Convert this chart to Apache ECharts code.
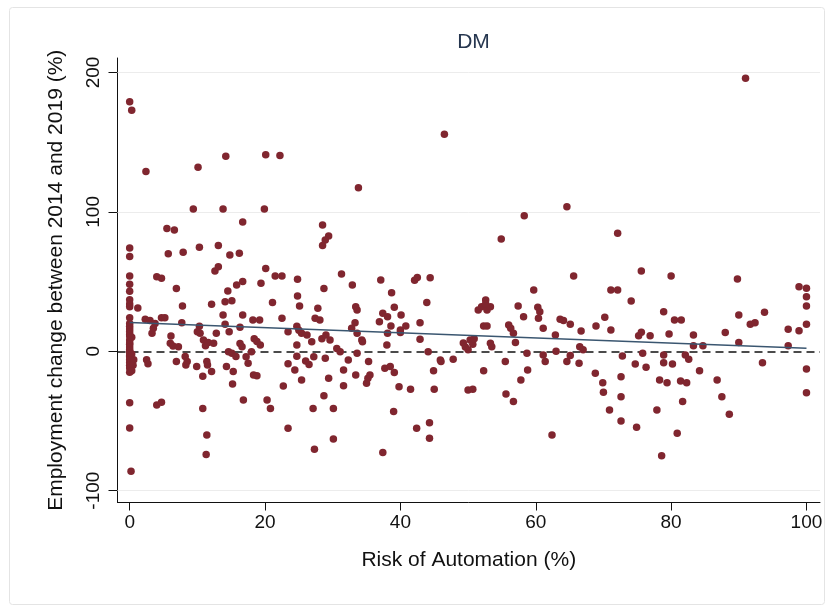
<!DOCTYPE html>
<html>
<head>
<meta charset="utf-8">
<script src="https://cdn.jsdelivr.net/npm/echarts@6/dist/echarts.min.js"></script>
<style>
html,body{margin:0;padding:0;background:#fff;}
#chart{width:829px;height:608px;}
</style>
</head>
<body>
<div id="chart"></div>
<script>
const chartTitle = "DM";
const xAxisTitle = "Risk of Automation (%)";
const yAxisTitle = "Employment change between 2014 and 2019 (%)";
const xTicks = [0, 20, 40, 60, 80, 100];
const yTicks = [-100, 0, 100, 200];
const yGridValues = [-100, 100, 200];
const zeroLineValue = 0;

// Risk of automation (%) for each occupation
const riskPct = [
  0,0.3,0,0,0,0,0,0,0,0,0,0,0,0,0,0,0,0,0,0,0,0,0,0,0,0,0,0,0,0,0,0,0,0.2,0.6,0.5,0.3,0.3,0.3,1.2,
  2.4,2.3,2.5,2.7,3.0,3.3,3.5,3.75,4.0,4.7,4.0,4.7,4.7,5.2,
  5.5,6.6,5.7,6.1,6.0,6.4,6.9,7.2,6.9,7.7,7.8,7.9,8.2,8.5,8.3,9.4,9.9,10.3,10.1,
  10.3,10.0,10.4,10.9,11.6,10.8,10.8,11.4,11.3,11.4,11.5,12.1,12.1,12.6,13.1,13.1,12.8,12.4,13.8,14.2,13.8,14.1,14.7,14.1,15.1,14.5,14.8,14.3,15.3,15.2,14.6,15.1,15.7,11.2,
  16.2,16.7,15.8,16.7,16.7,16.3,16.6,16.3,17.5,16.8,18.0,18.3,18.8,18.2,19.2,18.4,18.8,19.3,19.4,20.1,19.9,20.1,20.3,20.8,17.2,
  21.1,21.5,22.5,22.2,22.5,22.7,23.4,23.4,23.4,24.4,25.4,24.8,24.8,25.1,24.7,25.0,25.4,24.7,24.7,
  26.2,26.9,26.0,26.5,27.2,27.1,27.3,27.8,27.4,28.1,28.5,29.4,28.9,28.5,28.7,28.4,29.0,29.6,28.7,29.4,28.9,30.1,30.1,30.6,31.1,
  31.3,31.6,31.6,32.3,32.9,33.4,33.6,33.4,33.6,33.3,32.8,33.6,34.3,33.8,34.4,35.3,35.0,35.2,35.5,
  37.1,36.9,37.4,38.1,38.6,38.0,37.7,38.5,39.1,39.8,39.0,37.4,38.7,39.1,40.1,40.0,40.8,40.0,38.1,
  41.5,42.1,42.5,42.4,42.9,42.9,43.9,44.1,44.4,44.3,44.3,44.9,45.0,45.9,46.0,46.5,47.8,
  49.3,49.6,50.0,50.3,50.7,50.9,50.0,50.7,51.5,52.0,52.6,52.8,53.3,52.3,52.8,52.3,53.3,53.5,54.9,52.6,
  55.5,55.6,56.0,56.3,56.7,57.0,56.7,57.4,57.8,58.2,58.3,58.7,58.8,59.7,
  60.3,60.6,60.4,61.1,61.1,61.4,62.4,62.9,63.0,63.6,64.1,64.6,64.6,65.1,65.1,65.6,
  66.4,66.7,66.5,67.0,68.9,68.8,69.9,70.0,70.2,70.9,
  71.1,72.1,71.1,72.1,72.6,72.6,72.6,72.8,74.1,74.7,74.9,75.2,75.6,75.6,75.8,76.3,76.9,77.9,78.3,79.4,78.6,78.9,78.9,78.9,79.7,80.0,80.2,
  80.5,81.5,80.9,81.4,82.3,81.7,82.1,82.6,83.3,83.3,84.7,84.2,86.8,87.5,88.0,88.6,89.8,90.0,90.0,
  91.0,91.7,92.4,93.5,93.8,97.3,97.3,98.9,98.9,100,100,100,100,100,100
];

// Employment change between 2014 and 2019 (%) for each occupation
const empChange = [
  179,173,74,68,54,48,43,37,34,32,24,20,18,16,14,12,11,8,6,5,3,1,0,-1,-3,-4,-6,-8,-10,-12,-15,-37,-55,-86,-6,-10,-2,10,-14,31,
  129,23,-6,-9,22,13,16.5,20,53.5,52.3,-38.5,-36.6,24,24,
  88,87,70,11,5.7,3.8,45,3.3,-7.4,20.5,32.5,71,-3.8,-7.4,-9.8,102,-11,74.6,132,
  18,14,12.9,8.1,6.2,-18,-41,-60,-74,-7.4,-9.8,-14.6,33.7,57.6,60.7,75.8,12.9,5.7,102,140,26,19.4,14,35.6,36.3,43.3,69,-11,-14.6,-23.5,-0.3,-1.4,-3.8,4,
  70.3,92.8,47.6,50,26,17.2,3.3,5.5,-8.6,-35,-0.3,-17,-17.5,22.5,22.5,9,7,4.5,48.8,141,102,59.4,-35,-41,-4,
  34.9,54,54,140.5,23.7,-25,-55.3,14,-9,-13.4,-20.6,51.6,39.7,32.5,18,15,12.9,4.5,-3.6,
  11.7,6.9,-7,-9.5,-4,-41,-70.3,30.8,23.7,22.4,90.6,82.7,79.8,75.8,45,9,11.7,8,-32,-19.4,-5,-41,-63,2,-0.3,
  55.5,-13.4,-24.7,-6.2,47.6,-17,-1.4,32,29.6,20.5,16.5,12.9,8.1,117.4,6.9,-7.4,-23,-19.4,-17,
  51.2,21.2,27.2,24.8,18.1,4.5,-12.2,-11,-15.3,-25.4,-43.3,-72.7,42,31.6,26,15.3,18.1,13.4,13,
  -27.3,51,53,-55.3,20.5,8.6,34.9,-0.3,52.8,-51.2,-62.4,-13.9,-27.3,-6.2,-7.4,155.7,-5.7,
  6,3,1,8,5,9,-27.8,-27.3,29.6,32,36.8,29.6,32,18.1,18.1,-13.9,5.7,3.3,80.6,34,
  -7.4,-30.6,18.9,16.5,12.9,6.2,-36.1,32.5,-20.6,24.8,97.3,-1.4,-13.4,44,
  31.6,28.4,23.7,16.5,-2.7,-7.4,-60,11.7,0,23,22,103.7,-7.4,19.4,-3,54,
  -8.6,14.6,3.3,1,18.1,-15.8,-22.5,-29.4,24.4,-42.1,
  44,44,15.3,84.6,-18.2,-32.6,-50,-3.4,36.1,-9.1,-54.5,11.2,13.6,57.6,-1.4,-11.5,11.2,-42.1,-20.6,-22.5,-74.9,28.4,-2.7,-8.2,12.4,54,-9.1,
  22.4,22.4,-58.9,-21.3,-22.5,-36.1,-2.7,-5.7,11.7,4,4,-13.9,-20.6,-32.6,13.4,-45.2,51.9,26,6.2,
  195.8,19.4,20.5,-8.2,28,15.8,4,14.8,46.3,45.2,39.2,32.5,19.4,-12.7,-29.7
];

// Linear fit line endpoints (fitted values at x = 0 and x = 100)
const fitX = [0, 100];
const fitY = [20.6, 2.2];

const points = riskPct.map((x, i) => [x, empChange[i]]);
const fitData = fitX.map((x, i) => [x, fitY[i]]);

const FONT = "'Liberation Sans', Arial, sans-serif";
const chart = echarts.init(document.getElementById('chart'), null, {renderer: 'canvas'});

const gridMarks = yGridValues.map(v => ({
  yAxis: v,
  lineStyle: {color: '#ececec', width: 1, type: 'solid'}
}));
gridMarks.push({
  yAxis: zeroLineValue,
  lineStyle: {color: '#111', width: 1.5, type: [8, 5]}
});

chart.setOption({
  animation: false,
  backgroundColor: '#ffffff',
  title: {
    text: chartTitle,
    left: 468.5,
    top: 27,
    textAlign: 'center',
    textStyle: {fontFamily: FONT, fontSize: 21, fontWeight: 'normal', color: '#26364f'}
  },
  graphic: [{
    type: 'rect',
    shape: {x: 9.5, y: 7.5, width: 815, height: 597, r: 3},
    style: {fill: 'none', stroke: '#e4e4e4', lineWidth: 1},
    silent: true,
    z: -1
  }],
  grid: {left: 117.5, right: 9, top: 58, bottom: 105.5, containLabel: false},
  xAxis: {
    type: 'value',
    min: -1.8,
    max: 102,
    name: xAxisTitle,
    nameLocation: 'middle',
    nameGap: 47,
    nameTextStyle: {fontFamily: FONT, fontSize: 21, color: '#111'},
    axisLine: {show: true, onZero: false, lineStyle: {color: '#111', width: 1}},
    axisTick: {show: true, length: 8, customValues: xTicks, lineStyle: {color: '#111'}},
    axisLabel: {customValues: xTicks, fontFamily: FONT, fontSize: 19, color: '#111', margin: 11},
    splitLine: {show: false}
  },
  yAxis: {
    type: 'value',
    min: -108.5,
    max: 210.4,
    name: yAxisTitle,
    nameLocation: 'middle',
    nameRotate: 90,
    nameGap: 51,
    nameTextStyle: {fontFamily: FONT, fontSize: 21, color: '#111'},
    axisLine: {show: true, onZero: false, lineStyle: {color: '#111', width: 1}},
    axisTick: {show: true, length: 9, customValues: yTicks, lineStyle: {color: '#111'}},
    axisLabel: {customValues: yTicks, rotate: 90, fontFamily: FONT, fontSize: 19, color: '#111', margin: 14},
    splitLine: {show: false}
  },
  series: [
    {
      type: 'scatter',
      data: points,
      symbol: 'circle',
      symbolSize: 7.5,
      itemStyle: {color: '#80262f', opacity: 1},
      z: 2,
      markLine: {
        silent: true,
        symbol: ['none', 'none'],
        label: {show: false},
        z: 1,
        data: gridMarks
      }
    },
    {
      type: 'line',
      data: fitData,
      showSymbol: false,
      symbol: 'none',
      lineStyle: {color: '#3a5670', width: 1.5},
      z: 3
    }
  ]
});
</script>
</body>
</html>
